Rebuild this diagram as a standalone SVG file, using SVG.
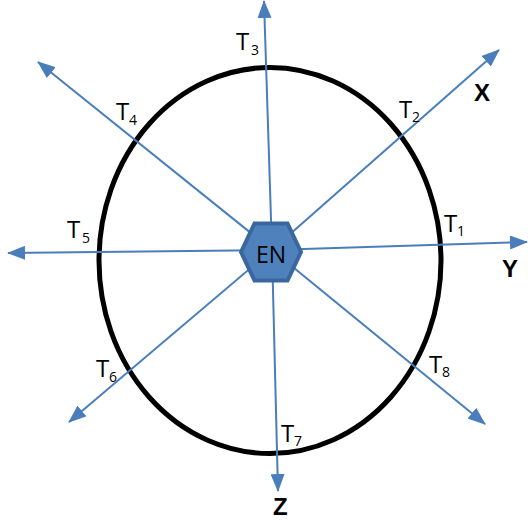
<svg xmlns="http://www.w3.org/2000/svg" width="528" height="521" viewBox="0 0 528 521">
<defs>
<style>
.ax{stroke:#4a7ebb;stroke-width:2;fill:none;marker-end:url(#ah)}
.t{font-family:"Open Sans","DejaVu Sans",sans-serif;font-size:24px;fill:#000}
.s{font-family:"Open Sans","DejaVu Sans",sans-serif;font-size:14px;fill:#000}
.b{font-family:"Liberation Sans",Arial,sans-serif;font-size:24px;font-weight:bold;fill:#000}
</style>
<marker id="ah" markerUnits="userSpaceOnUse" markerWidth="18" markerHeight="14" refX="17" refY="7" orient="auto" viewBox="0 0 18 14">
<path d="M0,0 L18,7 L0,14 Z" fill="#4a7ebb"/>
</marker>
</defs>
<rect width="528" height="521" fill="#fff"/>
<g id="boundary">
<ellipse cx="270" cy="260.5" rx="171" ry="193" fill="none" stroke="#000" stroke-width="5"/>
</g>
<g id="connectors">
<line class="ax" x1="272" y1="250" x2="264" y2="1"/>
<line class="ax" x1="272" y1="250" x2="499" y2="50"/>
<line class="ax" x1="272" y1="250" x2="527" y2="242"/>
<line class="ax" x1="272" y1="250" x2="8" y2="253"/>
<line class="ax" x1="272" y1="250" x2="69" y2="422"/>
<line class="ax" x1="272" y1="250" x2="278" y2="491"/>
<line class="ax" x1="272" y1="250" x2="485" y2="424"/>
<line class="ax" x1="272" y1="250" x2="38" y2="62"/>
</g>
<g id="EN">
<polygon points="241,252 254.5,223.5 287.5,223.5 301,252 287.5,280.5 254.5,280.5" fill="#4f81bd" stroke="#3a679e" stroke-width="4"/>
<text x="271" y="263" text-anchor="middle" font-family="'Open Sans','DejaVu Sans',sans-serif" font-size="23" fill="#000">EN</text>
</g>
<g id="labels">
<text class="t" x="236" y="50">T</text><text class="s" x="251" y="55">3</text>
<text class="t" x="399" y="118">T</text><text class="s" x="412" y="122">2</text>
<text class="t" x="444" y="232">T</text><text class="s" x="457" y="236">1</text>
<text class="t" x="67" y="238">T</text><text class="s" x="82" y="243">5</text>
<text class="t" x="96" y="377">T</text><text class="s" x="109" y="382">6</text>
<text class="t" x="281" y="442">T</text><text class="s" x="294" y="446">7</text>
<text class="t" x="429" y="373">T</text><text class="s" x="442" y="377">8</text>
<text class="t" x="116" y="120">T</text><text class="s" x="129" y="125">4</text>
<text class="b" x="474" y="101">X</text>
<text class="b" x="502" y="277">Y</text>
<text class="b" x="273" y="515">Z</text>
</g>
</svg>
